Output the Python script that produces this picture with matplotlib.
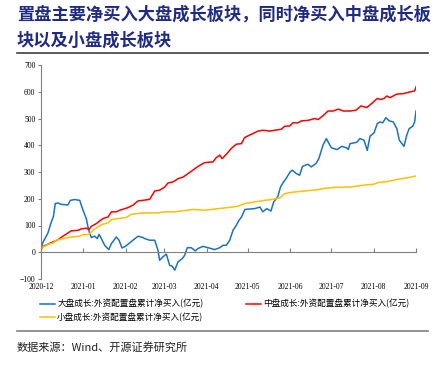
import numpy as np
import pandas as pd
import matplotlib
matplotlib.use("Agg")
import matplotlib.pyplot as plt
from matplotlib.lines import Line2D

plt.rcParams['font.family'] = ['Noto Sans CJK SC', 'DejaVu Sans']

# days counted from 2020-12-01, values in 亿元
large_days = [0, 1.5, 5, 7.5, 9, 10.4, 12.4, 14.8, 19.7, 21.4, 24.6, 28.3, 30.7, 33.1, 34.3,
              35.6, 36.8, 39.2, 41.1, 42.4, 44.1, 46.5, 49.5, 51.4, 55, 57, 59.2, 61.6, 64.1,
              67.2, 70.9, 74.5, 75.8, 79.4, 83.1, 85.5, 86.7, 89.1, 91.6, 94, 95.9, 97.7, 100.1,
              103.2, 105, 106.9, 109.8, 112.7, 114.7, 118.4, 122, 126.9, 130.6, 133, 135.4,
              137.9, 140.3, 142.7, 144.5, 146.5, 149, 156, 160, 162, 165, 168, 170, 173, 175,
              176.5, 179, 182, 183.5, 186.5, 189, 191, 195, 197.5, 201, 203, 206, 208.5, 210,
              212, 213.5, 216.5, 219.7, 223.4, 224.5, 225.8, 230.7, 233, 236, 238.4, 240.4,
              243.3, 245.7, 247.7, 249.7, 252, 254.5, 257.4, 260, 261.8, 265.2, 267.2, 269,
              271.6, 273, 274]
large_vals = [15, 38, 71, 113, 132, 182, 184, 179, 177, 194, 197, 194, 157, 126, 95,
              70, 55, 60, 51, 67, 51, 26, 10, 32, 57, 45, 16, 22, 32,
              45, 60, 55, 51, 45, 45, 7, -30, -17, -7, -49, -52, -67, -36,
              -24, -11, 17, 17, 5, 14, 22, 17, 10, 17, 26, 26,
              45, 82, 101, 118, 132, 160, 163, 169, 151, 163, 154, 188, 207, 244,
              257, 275, 300, 307, 294, 288, 321, 329, 319, 332, 350, 400, 425, 410,
              392, 388, 384, 396, 390, 384, 406, 411, 425, 419, 381, 434,
              446, 481, 487, 484, 503, 491, 487, 462, 419, 396, 437, 462,
              471, 487, 528]

mid_days = [0, 1.5, 5, 9, 12.4, 16, 19.7, 22, 27, 29.4, 33, 35, 36.8, 40.4, 42.9, 45.3, 49,
            51.4, 55, 57.5, 61.2, 63.6, 67.2, 70.9, 74.5, 79.4, 83.1, 86.7, 90.4, 92.8, 96.5,
            100.1, 103.8, 107.4, 111, 114.7, 119.6, 125.7, 128.1, 130.6, 132.3, 135.4, 139,
            142.7, 146.4, 148.8, 153.7, 158.6, 162.2, 167.1, 175.6, 178.1, 181.7, 184.1,
            187.8, 190.2, 195.1, 200, 202.4, 206, 209.7, 213.4, 217.2, 220.9, 225.8, 230.2,
            233.8, 238, 241.6, 245.7, 248.2, 250.6, 252.6, 255, 259.9, 264.7, 270.9, 273, 274]
mid_vals = [10, 22, 30, 39, 47, 60, 72, 80, 82, 87, 90, 85, 97, 107, 117, 126, 132,
            151, 151, 157, 163, 167, 176, 192, 194, 198, 229, 232, 244, 259, 263,
            275, 281, 294, 307, 321, 335, 338, 354, 363, 350, 366, 388,
            404, 406, 429, 441, 453, 456, 453, 460, 471, 472, 484,
            484, 491, 493, 500, 496, 510, 528, 528, 535, 528, 528, 531,
            547, 541, 556, 575, 571, 575, 584, 578, 591, 593, 601, 603, 618]

small_days = [0, 1.5, 5, 9, 11, 16, 22, 28, 30.7, 34.8, 38, 41.6, 45.3, 49, 51.4, 56.3, 62.4,
              66, 70.9, 74.5, 85.5, 90.4, 97.7, 102.5, 111, 119.6, 129.3, 136.6, 143.9, 148.8,
              156, 163.4, 168.3, 174.4, 178.1, 182.9, 192.7, 202.4, 207.3, 217, 225.8, 233.1,
              238, 242.9, 246.6, 252.6, 259.9, 267.2, 274]
small_vals = [5, 20, 29, 35, 45, 51, 57, 60, 66, 66, 82, 95, 105, 110, 122, 126, 130,
              142, 145, 147, 147, 151, 151, 154, 160, 157, 163, 167, 172, 182,
              188, 194, 197, 203, 219, 224, 229, 234, 239, 243, 244, 249,
              252, 254, 261, 264, 272, 278, 285]

labels = ['大盘成长:外资配置盘累计净买入(亿元)', '中盘成长:外资配置盘累计净买入(亿元)',
          '小盘成长:外资配置盘累计净买入(亿元)']
colors = ['#1a72c4', '#ff0000', '#ffc000']
month_ticks = ['2020-12', '2021-01', '2021-02', '2021-03', '2021-04', '2021-05',
               '2021-06', '2021-07', '2021-08', '2021-09']

start = pd.Timestamp('2020-12-01')
def to_dates(days):
    return start + pd.to_timedelta(np.array(days), unit='D')

fig = plt.figure(figsize=(4.44, 3.68), dpi=100)
ax = fig.add_axes([41/444, 1-279/368, 375/444, 214/368])

lines = []
for d, v, lab, c in [(large_days, large_vals, labels[0], colors[0]),
                     (mid_days, mid_vals, labels[1], colors[1]),
                     (small_days, small_vals, labels[2], colors[2])]:
    ln, = ax.plot(to_dates(d), v, color=c, lw=1.1, label=lab)
    lines.append(ln)

ticks = pd.to_datetime([m + '-01' for m in month_ticks])
ax.set_xlim(ticks[0], ticks[-1])
ax.set_ylim(-100, 700)
ax.set_yticks(range(-100, 701, 100))

for s in ['top', 'right']:
    ax.spines[s].set_visible(False)
ax.spines['left'].set_color('#808080')
ax.spines['bottom'].set_position(('data', 0))
ax.spines['bottom'].set_color('#808080')
ax.set_xticks(ticks)
ax.tick_params(axis='x', direction='in', length=3, color='#808080', labelbottom=False)
ax.tick_params(axis='y', length=2, color='#808080', labelsize=5.5, pad=2)
for t in ax.get_yticklabels():
    t.set_family('Liberation Serif')

sec = ax.secondary_xaxis('bottom')
sec.set_xticks(ticks)
sec.set_xticklabels(month_ticks, family='Liberation Serif', fontsize=5.5)
sec.tick_params(length=0, pad=3)
sec.spines['bottom'].set_visible(False)

# legend rows: large | mid, then small
order = [lines[0], lines[2], lines[1]]
ax.legend(order, [l.get_label() for l in order], loc='upper left',
          bbox_to_anchor=(-0.003, -0.095), ncol=2, frameon=False,
          fontsize=6.2, handlelength=1.75, columnspacing=5.0, labelspacing=0.45,
          handletextpad=0.25, borderpad=0, borderaxespad=0)

title_color = '#1f2a86'
fig.text(17/444, 1-15/368, '置盘主要净买入大盘成长板块，同时净买入中盘成长板', fontsize=12.4,
         fontweight='bold', color=title_color, va='center', ha='left')
fig.text(17/444, 1-41/368, '块以及小盘成长板块', fontsize=12.4,
         fontweight='bold', color=title_color, va='center', ha='left')
fig.add_artist(Line2D([17/444, 428/444], [1-53/368, 1-53/368], color='#404040', lw=1.2))
fig.add_artist(Line2D([17/444, 428/444], [1-331/368, 1-331/368], color='#808080', lw=1.2))
fig.text(17/444, 1-347/368, '数据来源：Wind、开源证券研究所', fontsize=8, color='#222222',
         va='center', ha='left')

fig.savefig('out.png', dpi=100)
